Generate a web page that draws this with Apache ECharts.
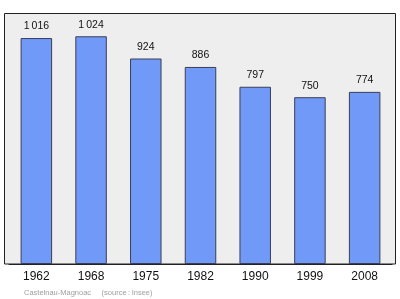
<!DOCTYPE html>
<html><head><meta charset="utf-8">
<script src="https://cdn.jsdelivr.net/npm/echarts@6/dist/echarts.min.js"></script>
<style>html,body{margin:0;padding:0;background:#fff}#c{width:400px;height:299px}</style>
</head><body><div id="c"></div>
<script>
var categories = ["1962","1968","1975","1982","1990","1999","2008"];
var population = [1016,1024,924,886,797,750,774];
var footerText = "Castelnau-Magnoac     (source\u2009:\u2009Insee)";

var chart = echarts.init(document.getElementById('c'), null, {renderer:'canvas'});
function fmt(v){ var s = String(v); return s.length > 3 ? s.slice(0, s.length-3) + '\u2009' + s.slice(-3) : s; }
chart.setOption({
  animation:false,
  backgroundColor:'#ffffff',
  graphic:[
    {type:'rect', z:-10, shape:{x:4.5,y:13.5,width:391,height:250.5},
     style:{fill:'#eeeeee', stroke:'#222222', lineWidth:1}},
    {type:'text', left:24, top:288.5, style:{text:footerText, fill:'#a0a0a0', font:'7.5px "Liberation Sans", Arial, sans-serif'}}
  ],
  grid:{left:9, right:8, top:13.5, bottom:35},
  xAxis:{type:'category', data:categories,
    axisLine:{show:true, lineStyle:{color:'#222', width:1}},
    axisTick:{show:false},
    axisLabel:{color:'#111', fontSize:12, fontFamily:'"Liberation Sans", Arial, sans-serif', margin:7}},
  yAxis:{type:'value', min:0, max:1126.4, show:false, splitLine:{show:false}},
  series:[{type:'bar', data:population, barWidth:31.5,
    itemStyle:{color:'#7099f8', borderColor:'#3a3f55', borderWidth:1},
    label:{show:true, position:'top', distance:6, color:'#111', fontSize:10.5,
      fontFamily:'"Liberation Sans", Arial, sans-serif',
      formatter:function(p){return fmt(p.value);}}}]
});
</script></body></html>
